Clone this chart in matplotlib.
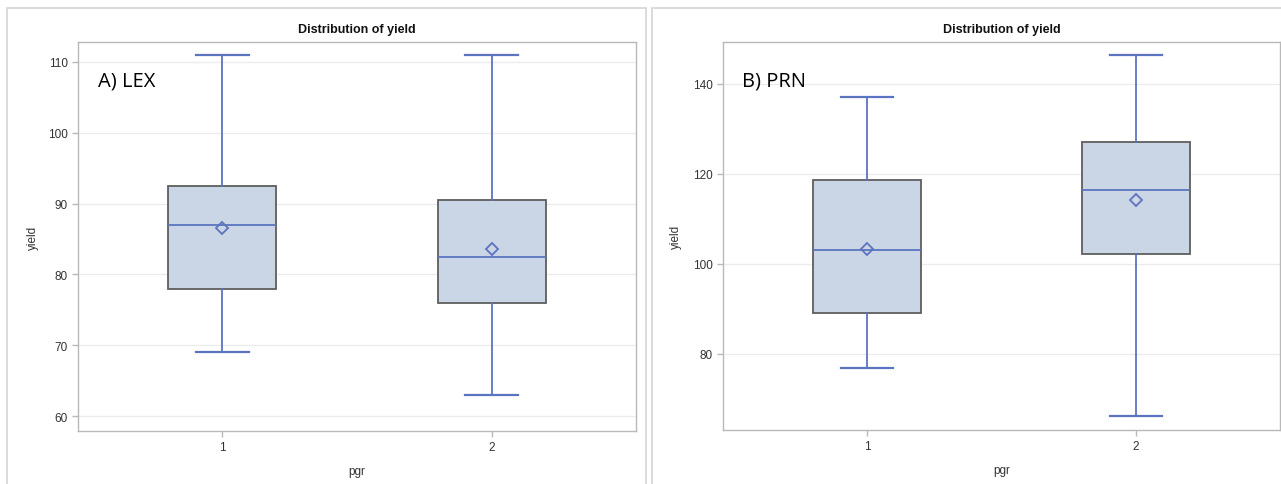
import matplotlib
matplotlib.use("Agg")
import matplotlib.pyplot as plt
from matplotlib.patches import Rectangle

W, H = 1281, 485

# ── data ──────────────────────────────────────────────────────────────────
groups = ["1", "2"]

lex_whislo = [69.0, 63.0]
lex_q1     = [78.0, 76.0]
lex_med    = [87.0, 82.5]
lex_q3     = [92.5, 90.5]
lex_whishi = [111.0, 111.0]
lex_mean   = [86.6, 83.6]

prn_whislo = [76.8, 66.1]
prn_q1     = [89.1, 102.2]
prn_med    = [103.1, 116.4]
prn_q3     = [118.7, 127.0]
prn_whishi = [137.0, 146.5]
prn_mean   = [103.3, 114.3]

lex_ticks = [60, 70, 80, 90, 100, 110]
prn_ticks = [80, 100, 120, 140]

FILL   = "#cad5e5"
EDGE   = "#5e5e5e"
LINE   = "#5b74c0"
GRID   = "#ececec"
FRAME  = "#b9b9b9"
BORDER = "#d4d4d4"
TXT    = "#333333"
FONT   = "Liberation Sans"


def px(x0, y0, x1, y1):
    return [x0 / W, 1 - y1 / H, (x1 - x0) / W, (y1 - y0) / H]


def stats(lo, q1, med, q3, hi, mean):
    return [dict(whislo=lo[i], q1=q1[i], med=med[i], q3=q3[i], whishi=hi[i],
                 mean=mean[i], fliers=[], label=groups[i])
            for i in range(len(groups))]


def panel(ax, st, ylim, ticks, tag, ylabpad):
    ax.set_axisbelow(True)
    ax.bxp(st, positions=[1, 2], widths=0.4, capwidths=0.196,
           showmeans=True, patch_artist=True,
           boxprops=dict(facecolor=FILL, edgecolor=EDGE, linewidth=1.3),
           medianprops=dict(color=LINE, linewidth=1.3),
           whiskerprops=dict(color=LINE, linewidth=1.3),
           capprops=dict(color=LINE, linewidth=1.6),
           meanprops=dict(marker="D", markersize=6, markerfacecolor="none",
                          markeredgecolor=LINE, markeredgewidth=1.3))
    ax.set_xlim(0.465, 2.535)
    ax.set_ylim(*ylim)
    ax.set_yticks(ticks)
    ax.set_xticks([1, 2])
    ax.set_xticklabels(groups)
    ax.grid(axis="y", color=GRID, linewidth=1.0)
    for sp in ax.spines.values():
        sp.set_edgecolor(FRAME)
        sp.set_linewidth(1.0)
    ax.tick_params(colors=FRAME, labelcolor=TXT, labelsize=8.5, length=4,
                   width=1.0)
    for lab in ax.get_xticklabels() + ax.get_yticklabels():
        lab.set_fontfamily(FONT)
    ax.set_title("Distribution of yield", fontfamily=FONT, fontsize=9,
                 fontweight="bold", color="#111111", pad=7)
    ax.set_xlabel("pgr", fontfamily=FONT, fontsize=8.5, color=TXT, labelpad=8)
    ax.set_ylabel("yield", fontfamily=FONT, fontsize=8.5, color=TXT,
                  labelpad=ylabpad)
    ax.text(0.035, 0.9, tag, transform=ax.transAxes, fontfamily="Open Sans",
            fontsize=14.5, color="black", va="center", ha="left")


fig = plt.figure(figsize=(W / 100, H / 100), dpi=100, facecolor="white")

# panel borders
for x0, x1 in [(7, 646), (652, 1290)]:
    fig.patches.append(Rectangle((x0 / W, -0.05), (x1 - x0) / W,
                                 1 - 9 / H + 0.05, transform=fig.transFigure,
                                 fill=False, edgecolor=BORDER, linewidth=1.2))

ax1 = fig.add_axes(px(78, 43, 636, 432))
panel(ax1, stats(lex_whislo, lex_q1, lex_med, lex_q3, lex_whishi, lex_mean),
      (57.9, 112.8), lex_ticks, "A) LEX", 6)

ax2 = fig.add_axes(px(723, 43, 1280, 431))
panel(ax2, stats(prn_whislo, prn_q1, prn_med, prn_q3, prn_whishi, prn_mean),
      (63.1, 149.3), prn_ticks, "B) PRN", 8)

fig.savefig("out.png", dpi=100, facecolor="white")
